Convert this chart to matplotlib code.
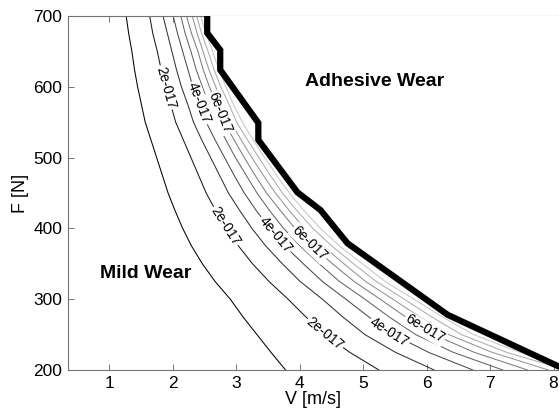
import numpy as np
import matplotlib
matplotlib.use("Agg")
import matplotlib.pyplot as plt

plt.rcParams["font.family"] = ["Liberation Sans", "DejaVu Sans"]

# Normal load levels [N] at which each wear-rate contour is sampled
force = [700, 675, 650, 625, 600, 575, 550, 525, 500, 475, 450,
         425, 400, 375, 350, 325, 300, 275, 250, 225, 200]

# Sliding speed [m/s] of each iso-wear-rate contour at the loads above
v_1e17 = [1.27, 1.31, 1.36, 1.40, 1.45, 1.51, 1.57, 1.66, 1.75, 1.84, 1.93,
          2.04, 2.16, 2.30, 2.47, 2.67, 2.91, 3.11, 3.33, 3.55, 3.78]
v_2e17 = [1.64, 1.69, 1.76, 1.82, 1.89, 1.97, 2.05, 2.17, 2.29, 2.41, 2.53,
          2.68, 2.85, 3.04, 3.26, 3.52, 3.82, 4.10, 4.41, 4.79, 5.25]
v_3e17 = [1.85, 1.92, 1.99, 2.06, 2.14, 2.24, 2.33, 2.46, 2.60, 2.74, 2.88,
          3.06, 3.25, 3.47, 3.73, 4.01, 4.36, 4.68, 5.03, 5.51, 6.12]
v_4e17 = [2.01, 2.08, 2.16, 2.24, 2.32, 2.43, 2.53, 2.67, 2.82, 2.97, 3.13,
          3.32, 3.53, 3.77, 4.06, 4.36, 4.73, 5.09, 5.48, 6.03, 6.73]
v_5e17 = [2.13, 2.20, 2.29, 2.37, 2.47, 2.57, 2.69, 2.84, 2.99, 3.16, 3.33,
          3.53, 3.75, 4.01, 4.31, 4.63, 5.03, 5.41, 5.83, 6.42, 7.20]
v_6e17 = [2.22, 2.30, 2.40, 2.48, 2.58, 2.70, 2.81, 2.97, 3.13, 3.30, 3.48,
          3.70, 3.93, 4.20, 4.52, 4.86, 5.27, 5.67, 6.11, 6.75, 7.59]
v_7e17 = [2.31, 2.39, 2.48, 2.57, 2.68, 2.80, 2.92, 3.08, 3.25, 3.43, 3.62,
          3.84, 4.08, 4.37, 4.70, 5.04, 5.47, 5.89, 6.35, 7.03, 7.92]
v_8e17 = [2.38, 2.46, 2.56, 2.65, 2.76, 2.89, 3.01, 3.18, 3.36, 3.54, 3.73,
          3.96, 4.21, 4.51, 4.85, 5.21, 5.65, 6.08, 6.55, 7.26, 8.20]
v_9e17 = [2.44, 2.53, 2.63, 2.73, 2.84, 2.96, 3.10, 3.27, 3.45, 3.64, 3.84,
          4.07, 4.33, 4.63, 4.99, 5.35, 5.80, 6.25, 6.74, 7.47, 8.45]

contour_levels = ["1e-017", "2e-017", "3e-017", "4e-017", "5e-017",
                  "6e-017", "7e-017", "8e-017", "9e-017"]
contour_speeds = [v_1e17, v_2e17, v_3e17, v_4e17, v_5e17,
                  v_6e17, v_7e17, v_8e17, v_9e17]

# Labelled contours and the loads at which their labels sit
labelled = ["2e-017", "4e-017", "6e-017"]
label_loads = {"2e-017": [599, 403, 251],
               "4e-017": [577, 391, 254],
               "6e-017": [563, 379, 258]}

# Mild / adhesive wear transition boundary
boundary_v = [2.546, 2.546, 2.751, 2.751, 3.351, 3.351, 3.966, 4.329, 4.755, 6.332, 8.20]
boundary_f = [700, 676, 652, 624, 549, 525, 451, 426, 379, 278, 200]

x_ticks = [1, 2, 3, 4, 5, 6, 7, 8]
y_ticks = [200, 300, 400, 500, 600, 700]

W, H = 559, 413
fig = plt.figure(figsize=(W / 100, H / 100), dpi=100)
ax = fig.add_axes([68 / W, 43 / H, (558.5 - 68) / W, 354 / H])
ax.set_xlim(0.354, 8.078)
ax.set_ylim(200, 700)

# grey ramp from black (low wear) to light grey (high wear)
greys = np.linspace(0.0, 0.78, len(contour_levels))
for speeds, g in zip(contour_speeds, greys):
    ax.plot(speeds, force, color=str(g), lw=0.75, zorder=2)

# blank out the adhesive region beyond the boundary
poly_v = boundary_v + [9.0, 9.0, boundary_v[0]]
poly_f = boundary_f + [150, 750, 750]
ax.fill(poly_v, poly_f, color="white", zorder=3, lw=0)
ax.plot(boundary_v, boundary_f, color="black", lw=4.5, zorder=4,
        solid_joinstyle="miter", solid_capstyle="butt")

# inline contour labels
for name in labelled:
    speeds = contour_speeds[contour_levels.index(name)]
    f_arr = np.array(force[::-1], float)
    v_arr = np.array(speeds[::-1], float)
    for fl in label_loads[name]:
        v0 = np.interp(fl, f_arr, v_arr)
        va = np.interp(fl + 12, f_arr, v_arr)
        vb = np.interp(fl - 12, f_arr, v_arr)
        p1 = ax.transData.transform((va, fl + 12))
        p2 = ax.transData.transform((vb, fl - 12))
        ang = np.degrees(np.arctan2(p2[1] - p1[1], p2[0] - p1[0]))
        ax.text(v0, fl, name, fontsize=10, rotation=ang, rotation_mode="anchor",
                ha="center", va="center", zorder=5,
                bbox=dict(boxstyle="square,pad=0.08", fc="white", ec="none"))

ax.text(5.19, 608, "Adhesive Wear", fontsize=14, fontweight="bold",
        ha="center", va="center", zorder=6)
ax.text(1.574, 336, "Mild Wear", fontsize=14, fontweight="bold",
        ha="center", va="center", zorder=6)

ax.set_xticks(x_ticks)
ax.set_yticks(y_ticks)
ax.tick_params(direction="in", length=4, width=0.7, color="0.45",
               top=True, right=True, labelsize=12.5, pad=4)
for s in ax.spines.values():
    s.set_color("0.45")
    s.set_linewidth(0.8)
ax.set_xlabel("V [m/s]", fontsize=13, labelpad=0)
ax.set_ylabel("F [N]", fontsize=13, labelpad=3)

fig.savefig("out.png", dpi=100)
